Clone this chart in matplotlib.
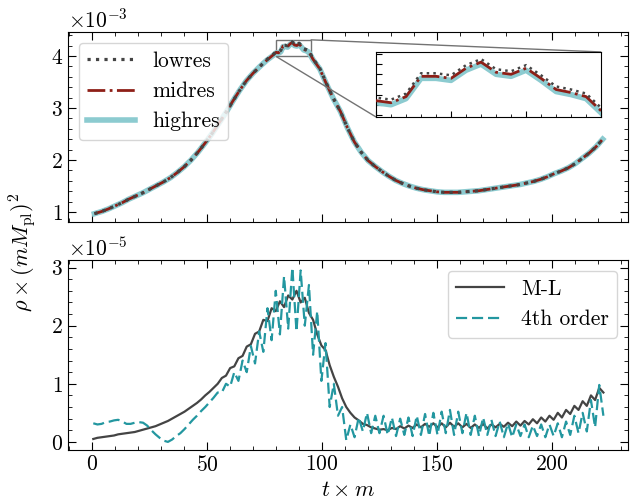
import numpy as np
import matplotlib
matplotlib.use("Agg")
import matplotlib.pyplot as plt
from matplotlib.ticker import MultipleLocator
from mpl_toolkits.axes_grid1.inset_locator import mark_inset

plt.rcParams['font.family'] = 'serif'
plt.rcParams['font.serif'] = ['cmr10', 'DejaVu Serif']
plt.rcParams['mathtext.fontset'] = 'cm'
plt.rcParams['axes.formatter.use_mathtext'] = True
plt.rcParams['font.size'] = 15.5

# top panel: energy density for three resolutions (units of 1e-3)
t_top = np.r_[np.arange(1, 77, 3), np.arange(79, 97, 1), np.arange(99, 223, 3)]
highres = [0.97, 1.01, 1.06, 1.12, 1.18, 1.25, 1.31, 1.37, 1.44, 1.51,
           1.58, 1.66, 1.76, 1.87, 2.00, 2.15, 2.32, 2.50, 2.70, 2.90,
           3.12, 3.33, 3.52, 3.67, 3.80, 3.92,
           4.02, 4.06, 4.05, 4.08, 4.18, 4.18, 4.17, 4.22, 4.25, 4.20,
           4.19, 4.22, 4.17, 4.115, 4.10, 4.08, 4.01, 3.93,
           3.75, 3.45, 3.17, 2.93, 2.62, 2.35, 2.15, 1.99, 1.88, 1.78,
           1.69, 1.61, 1.55, 1.50, 1.46, 1.43, 1.41, 1.39, 1.38, 1.38,
           1.38, 1.39, 1.40, 1.41, 1.43, 1.45, 1.47, 1.49, 1.51, 1.53,
           1.56, 1.59, 1.63, 1.68, 1.74, 1.79, 1.85, 1.93, 2.03, 2.13,
           2.25, 2.40]
midres = [0.97, 1.01, 1.06, 1.12, 1.18, 1.25, 1.31, 1.37, 1.44, 1.51,
          1.58, 1.66, 1.76, 1.87, 2.00, 2.15, 2.32, 2.50, 2.70, 2.90,
          3.12, 3.33, 3.52, 3.67, 3.80, 3.92,
          4.03, 4.07, 4.06, 4.09, 4.19, 4.19, 4.18, 4.23, 4.26, 4.21,
          4.20, 4.23, 4.18, 4.125, 4.11, 4.09, 4.02, 3.94,
          3.75, 3.45, 3.17, 2.93, 2.62, 2.35, 2.15, 1.99, 1.88, 1.78,
          1.69, 1.61, 1.55, 1.50, 1.46, 1.43, 1.41, 1.39, 1.38, 1.38,
          1.38, 1.39, 1.40, 1.41, 1.43, 1.45, 1.47, 1.49, 1.51, 1.53,
          1.56, 1.59, 1.63, 1.68, 1.74, 1.79, 1.85, 1.93, 2.03, 2.13,
          2.25, 2.40]
lowres = [0.97, 1.01, 1.06, 1.12, 1.18, 1.25, 1.31, 1.37, 1.44, 1.51,
          1.58, 1.66, 1.76, 1.87, 2.00, 2.15, 2.32, 2.50, 2.70, 2.90,
          3.12, 3.33, 3.52, 3.67, 3.80, 3.93,
          4.04, 4.085, 4.075, 4.105, 4.205, 4.205, 4.195, 4.245, 4.275, 4.225,
          4.215, 4.245, 4.195, 4.14, 4.125, 4.105, 4.035, 3.95,
          3.76, 3.46, 3.18, 2.93, 2.62, 2.35, 2.15, 1.99, 1.88, 1.78,
          1.69, 1.61, 1.55, 1.50, 1.46, 1.43, 1.41, 1.39, 1.38, 1.38,
          1.38, 1.39, 1.40, 1.41, 1.43, 1.45, 1.47, 1.49, 1.51, 1.53,
          1.56, 1.59, 1.63, 1.68, 1.74, 1.79, 1.85, 1.93, 2.03, 2.13,
          2.25, 2.40]

# bottom panel: difference curves (units of 1e-5)
t_bot = np.linspace(0.5, 222.3, 124)
ml = [0.05, 0.07, 0.08, 0.09, 0.10, 0.11, 0.13, 0.14, 0.15, 0.16,
      0.17, 0.19, 0.21, 0.23, 0.25, 0.27, 0.30, 0.33, 0.36, 0.40,
      0.44, 0.48, 0.52, 0.57, 0.62, 0.67, 0.73, 0.80, 0.86, 0.93,
      1.00, 1.10, 1.14, 1.27, 1.30, 1.44, 1.48, 1.64, 1.68, 1.86,
      1.90, 2.10, 2.08, 2.30, 2.25, 2.42, 2.32, 2.52, 2.45, 2.60,
      2.40, 2.48, 2.22, 2.10, 1.85, 1.66, 1.58, 1.32, 1.12, 0.95,
      0.75, 0.60, 0.50, 0.42, 0.37, 0.31, 0.29, 0.25, 0.23, 0.21,
      0.22, 0.20, 0.24, 0.22, 0.27, 0.23, 0.28, 0.24, 0.30, 0.25,
      0.31, 0.26, 0.32, 0.25, 0.32, 0.25, 0.33, 0.26, 0.32, 0.25,
      0.31, 0.24, 0.30, 0.24, 0.31, 0.23, 0.30, 0.25, 0.31, 0.26,
      0.33, 0.27, 0.35, 0.28, 0.36, 0.30, 0.39, 0.32, 0.42, 0.35,
      0.45, 0.38, 0.50, 0.42, 0.55, 0.48, 0.62, 0.55, 0.70, 0.62,
      0.80, 0.72, 0.93, 0.85]
fourth = [0.32, 0.30, 0.31, 0.34, 0.35, 0.37, 0.38, 0.35, 0.31, 0.31,
          0.33, 0.34, 0.33, 0.28, 0.20, 0.13, 0.07, 0.02, 0.00, 0.04,
          0.10, 0.15, 0.22, 0.30, 0.38, 0.45, 0.53, 0.60, 0.68, 0.76,
          0.85, 0.85, 1.00, 0.95, 1.20, 1.05, 1.40, 1.20, 1.65, 1.35,
          1.90, 1.55, 2.30, 1.75, 2.60, 1.85, 2.85, 1.95, 3.00, 1.90,
          2.95, 2.00, 2.70, 1.50, 2.25, 1.05, 1.70, 0.60, 1.00, 0.45,
          0.60, 0.03, 0.30, 0.08, 0.42, 0.18, 0.50, 0.15, 0.45, 0.15,
          0.45, 0.12, 0.42, 0.10, 0.40, 0.12, 0.42, 0.10, 0.45, 0.12,
          0.48, 0.10, 0.50, 0.12, 0.52, 0.15, 0.55, 0.12, 0.52, 0.15,
          0.50, 0.12, 0.45, 0.10, 0.42, 0.12, 0.38, 0.10, 0.35, 0.08,
          0.32, 0.08, 0.30, 0.10, 0.30, 0.08, 0.28, 0.10, 0.30, 0.08,
          0.30, 0.10, 0.32, 0.08, 0.35, 0.12, 0.45, 0.15, 0.50, 0.18,
          0.72, 0.25, 0.98, 0.45]

c_low = '#444444'
c_mid = '#8e1f17'
c_high = '#8ccbd0'
c_ml = '#444444'
c_4th = '#2397a0'

hi = np.array(highres) * 1e-3
mid = np.array(midres) * 1e-3
lo = np.array(lowres) * 1e-3

fig = plt.figure(figsize=(6.33, 5.04), dpi=100)
ax1 = fig.add_axes([0.1074, 0.5595, 0.8847, 0.377])
ax2 = fig.add_axes([0.1074, 0.1071, 0.8847, 0.377], sharex=ax1)


def style_ticks(ax):
    ax.tick_params(which='both', direction='in', top=True, right=True)
    ax.tick_params(which='major', length=5.5)
    ax.tick_params(which='minor', length=3)


ax1.plot(t_top, lo, ':', color=c_low, lw=2.3, label='lowres', zorder=4)
ax1.plot(t_top, mid, '-.', color=c_mid, lw=2, label='midres', zorder=3)
ax1.plot(t_top, hi, '-', color=c_high, lw=4, label='highres', zorder=2)
ax1.set_ylim(0.81e-3, 4.46e-3)
ax1.yaxis.set_major_locator(MultipleLocator(1e-3))
ax1.yaxis.set_minor_locator(MultipleLocator(0.2e-3))
ax1.ticklabel_format(axis='y', style='sci', scilimits=(0, 0))
style_ticks(ax1)
plt.setp(ax1.get_xticklabels(), visible=False)
ax1.legend(loc='upper left', handlelength=2.2)

axins = ax1.inset_axes([0.55, 0.553, 0.402, 0.342])
axins.plot(t_top, lo, ':', color=c_low, lw=1.8, zorder=4)
axins.plot(t_top, mid, '-.', color=c_mid, lw=2, zorder=3)
axins.plot(t_top, hi, '-', color=c_high, lw=4, zorder=2)
axins.set_xlim(80, 95)
axins.set_ylim(3.99e-3, 4.31e-3)
axins.xaxis.set_major_locator(MultipleLocator(5))
axins.xaxis.set_minor_locator(MultipleLocator(1))
axins.yaxis.set_major_locator(MultipleLocator(0.05e-3))
axins.tick_params(which='both', direction='in', labelleft=False, labelbottom=False)
axins.tick_params(which='major', length=4)
axins.tick_params(which='minor', length=2.5)
mark_inset(ax1, axins, loc1=1, loc2=3, fc='none', ec='0.45', lw=1)

ax2.plot(t_bot, np.array(ml) * 1e-5, '-', color=c_ml, lw=1.6, label='M-L')
ax2.plot(t_bot, np.array(fourth) * 1e-5, '--', color=c_4th, lw=1.6,
         dashes=(5, 2.2), label='4th order')
ax2.set_ylim(-0.14e-5, 3.13e-5)
ax2.set_xlim(-10.5, 233)
ax2.yaxis.set_major_locator(MultipleLocator(1e-5))
ax2.yaxis.set_minor_locator(MultipleLocator(0.2e-5))
ax2.xaxis.set_major_locator(MultipleLocator(50))
ax2.xaxis.set_minor_locator(MultipleLocator(10))
ax2.ticklabel_format(axis='y', style='sci', scilimits=(0, 0))
style_ticks(ax2)
ax2.legend(loc='upper right', handlelength=2.2)
ax2.set_xlabel(r'$t \times m$', fontsize=16)

fig.text(0.035, 0.5, r'$\rho \times (mM_{\rm pl})^2$', rotation=90,
         ha='center', va='center', fontsize=16)

fig.savefig('out.png', dpi=100)
